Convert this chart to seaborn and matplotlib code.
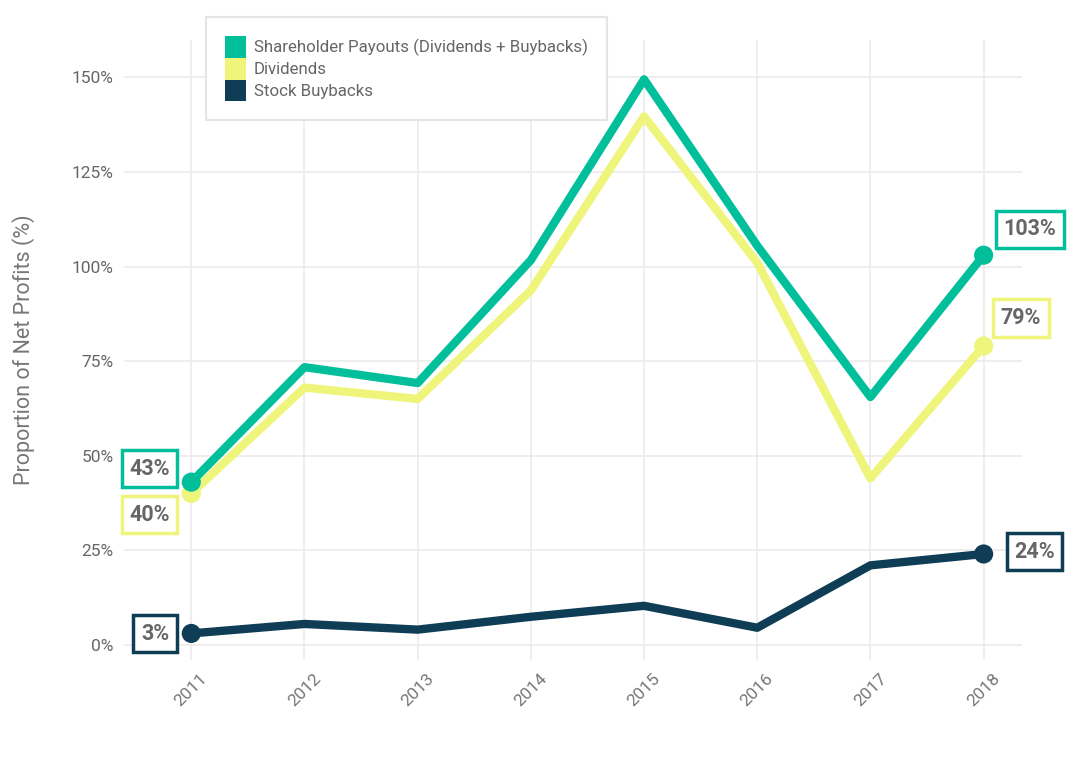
import matplotlib
matplotlib.use("Agg")
import matplotlib.pyplot as plt
from matplotlib.patches import Patch
import seaborn as sns
import pandas as pd

years = [2011, 2012, 2013, 2014, 2015, 2016, 2017, 2018]
payouts = [43, 73.4, 69.2, 101.7, 149.5, 105.5, 65.5, 103]
dividends = [40, 68, 65, 93.7, 139.7, 101, 44, 79]
buybacks = [3, 5.5, 4, 7.4, 10.3, 4.5, 21, 24]

series_names = ["Shareholder Payouts (Dividends + Buybacks)", "Dividends", "Stock Buybacks"]
colors = ["#00BF9A", "#EEF57A", "#0E3D55"]
yticks = [0, 25, 50, 75, 100, 125, 150]

sns.set_theme(style="whitegrid")
plt.rcParams["font.family"] = ["Roboto", "DejaVu Sans"]

df = pd.DataFrame({
    "year": years * 3,
    "value": payouts + dividends + buybacks,
    "series": [series_names[0]] * 8 + [series_names[1]] * 8 + [series_names[2]] * 8,
})
# draw buybacks first, payouts last (on top)
df = df.iloc[::-1].reset_index(drop=True)
ends = df[df["year"].isin([years[0], years[-1]])]

fig = plt.figure(figsize=(10.92, 7.62), dpi=100)
ax = fig.add_axes([0.114, 0.134, 0.822, 0.814])

palette = dict(zip(series_names, colors))
sns.lineplot(data=df, x="year", y="value", hue="series", palette=palette,
             linewidth=6, ax=ax, legend=False, hue_order=series_names[::-1])
sns.scatterplot(data=ends, x="year", y="value", hue="series", palette=palette,
                s=190, edgecolor="none", ax=ax, legend=False, zorder=5)

ax.set_xlim(2010.41, 2018.34)
ax.set_ylim(-4, 160)
ax.set_xticks(years)
ax.set_xticklabels([str(y) for y in years], rotation=45, color="#777777", fontsize=12.5)
ax.set_yticks(yticks)
ax.set_yticklabels([f"{t}%" for t in yticks], color="#666666", fontsize=12.5)
ax.set_xlabel("")
ax.set_ylabel("Proportion of Net Profits (%)", color="#777777", fontsize=15.5, labelpad=26)
ax.grid(True, color="#EBEBEB", linewidth=1.2)
for s in ax.spines.values():
    s.set_visible(False)
ax.tick_params(length=0, pad=8)

# end labels
labels = [
    (2011 - 0.37, 46.6, "43%", colors[0]),
    (2011 - 0.37, 34.4, "40%", colors[1]),
    (2011 - 0.32, 2.9, "3%", colors[2]),
    (2018 + 0.41, 109.8, "103%", colors[0]),
    (2018 + 0.33, 86.4, "79%", colors[1]),
    (2018 + 0.45, 24.6, "24%", colors[2]),
]
for x, y, t, c in labels:
    ax.text(x, y, t, ha="center", va="center", fontsize=15.5, fontweight="bold",
            color="#666666", zorder=6, clip_on=False,
            bbox=dict(boxstyle="square,pad=0.35", fc="white", ec=c, lw=2.5))

handles = [Patch(facecolor=c, edgecolor="none") for c in colors]
leg = fig.legend(handles, series_names, loc="upper left",
                 bbox_to_anchor=(198 / 1092, 1 - 9 / 762),
                 frameon=True, fontsize=12.2, handlelength=1.25, handleheight=1.6,
                 handletextpad=0.45, labelspacing=0.0, borderpad=1.1,
                 fancybox=False, framealpha=1)
leg.get_frame().set_edgecolor("#E5E5E5")
leg.get_frame().set_linewidth(1.5)
for txt in leg.get_texts():
    txt.set_color("#666666")

fig.savefig("out.png", dpi=100)
